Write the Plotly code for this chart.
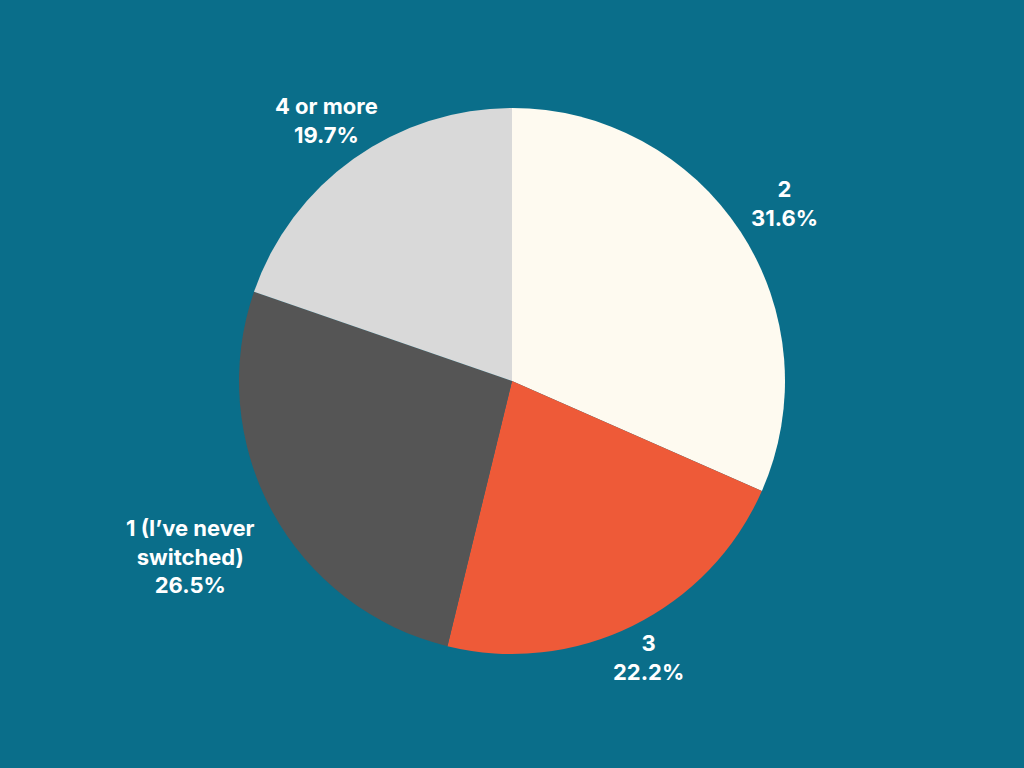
import numpy as np
import plotly.graph_objects as go

# survey answers, clockwise from 12 o'clock
labels = ["2", "3", "1 (I’ve never<br>switched)", "4 or more"]
values = [31.6, 22.2, 26.5, 19.7]
colors = ["#fefaf0", "#ee5a38", "#555555", "#d9d9d9"]

bg = "#0a6e8a"
W, H = 1024, 768
cx, cy, R = 512, 381, 273          # pie centre / radius in px
label_dist = [1.19, 1.13, 1.34, 1.17]  # how far out each label sits (x radius)

fig = go.Figure()
fig.add_trace(go.Pie(
    labels=labels,
    values=values,
    sort=False,
    direction="clockwise",
    rotation=0,
    marker=dict(colors=colors, line=dict(width=0)),
    textinfo="none",
    hoverinfo="label+percent",
    showlegend=False,
    domain=dict(x=[(cx - R) / W, (cx + R) / W], y=[1 - (cy + R) / H, 1 - (cy - R) / H]),
))

# labels outside, along the middle of each slice
total = sum(values)
start = 0
for lab, v, k in zip(labels, values, label_dist):
    mid = (start + v / 2) / total * 2 * np.pi
    start += v
    px_ = cx + k * R * np.sin(mid)
    py_ = cy - k * R * np.cos(mid)
    fig.add_annotation(
        x=px_ / W, y=1 - py_ / H, xref="paper", yref="paper",
        text=f"{lab}<br>{v / total:.1%}",
        showarrow=False, xanchor="center", yanchor="middle", align="center",
        font=dict(family="Inter", size=22, color="white", weight="bold"),
    )

fig.update_layout(
    width=W,
    height=H,
    paper_bgcolor=bg,
    plot_bgcolor=bg,
    margin=dict(l=0, r=0, t=0, b=0),
    showlegend=False,
)

fig.write_html("out.html",
               config={"displayModeBar": False},
               post_script="document.body.style.margin='0';document.body.style.background='%s';" % bg)
